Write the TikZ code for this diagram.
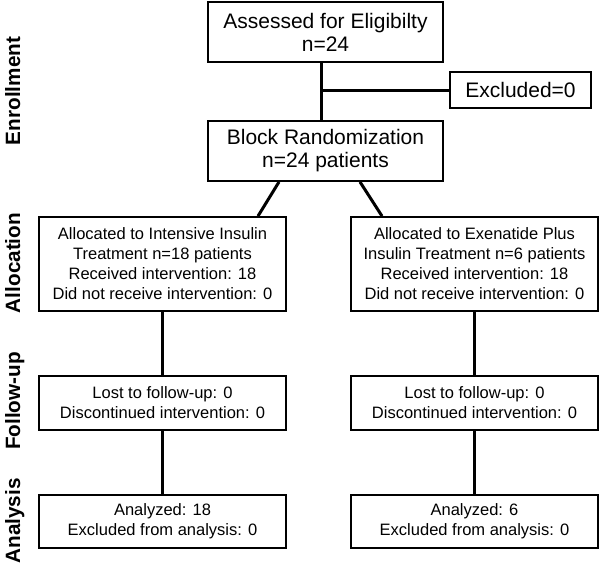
\documentclass[tikz,border=0pt]{standalone}
\usepackage{fontspec}
\setmainfont{Liberation Sans}
\begin{document}
\begin{tikzpicture}[x=1pt,y=-1pt,
  bigbox/.style={draw, line width=1.8pt, inner sep=0pt, align=center, font=\fontsize{21}{23}\selectfont},
  smallbox/.style={draw, line width=1.8pt, inner sep=0pt, align=center, minimum width=247pt, font=\fontsize{16.5}{20}\selectfont},
  link/.style={line width=3pt},
  phase/.style={rotate=90, anchor=base, font=\fontsize{20.7}{22}\selectfont\bfseries}]
\useasboundingbox (0,0) rectangle (600,565);
\node[bigbox, minimum width=235pt, minimum height=60pt] (assess) at (325.5,32) {Assessed for Eligibilty\\n=24};
\node[bigbox, minimum width=141pt, minimum height=36pt] (excl) at (520.5,90) {Excluded=0};
\node[bigbox, minimum width=235pt, minimum height=60pt] (block) at (325.5,151) {Block Randomization\\n=24 patients};
\node[smallbox, minimum height=94pt] (a1) at (162.5,264) {Allocated to Intensive Insulin\\Treatment n=18 patients\\Received intervention: 18\\Did not receive intervention: 0};
\node[smallbox, minimum height=94pt] (a2) at (474.5,264) {Allocated to Exenatide Plus\\Insulin Treatment n=6 patients\\Received intervention: 18\\Did not receive intervention: 0};
\node[smallbox, minimum height=54pt] (f1) at (162.5,403) {Lost to follow-up: 0\\Discontinued intervention: 0};
\node[smallbox, minimum height=54pt] (f2) at (474.5,403) {Lost to follow-up: 0\\Discontinued intervention: 0};
\node[smallbox, minimum height=53pt] (n1) at (162.5,521.5) {Analyzed: 18\\Excluded from analysis: 0};
\node[smallbox, minimum height=53pt] (n2) at (474.5,521.5) {Analyzed: 6\\Excluded from analysis: 0};
\node[phase] (p1) at (20,91) {Enrollment};
\node[phase] (p2) at (20,263) {Allocation};
\node[phase] (p3) at (20,401) {Follow-up};
\node[phase] (p4) at (20,521) {Analysis};
\draw[link] ([xshift=-4.5pt]assess.south) -- ([xshift=-4.5pt]block.north);
\coordinate (trunk) at ([xshift=-4.5pt]assess.south);
\draw[link] (excl.west) -- (excl.west -| trunk);
\draw[link] ([xshift=-46.5pt]block.south) -- ([xshift=95.5pt]a1.north);
\draw[link] ([xshift=34.5pt]block.south) -- ([xshift=-92.5pt]a2.north);
\draw[link] (a1) -- (f1);
\draw[link] (f1) -- (n1);
\draw[link] (a2) -- (f2);
\draw[link] (f2) -- (n2);
\end{tikzpicture}
\end{document}
